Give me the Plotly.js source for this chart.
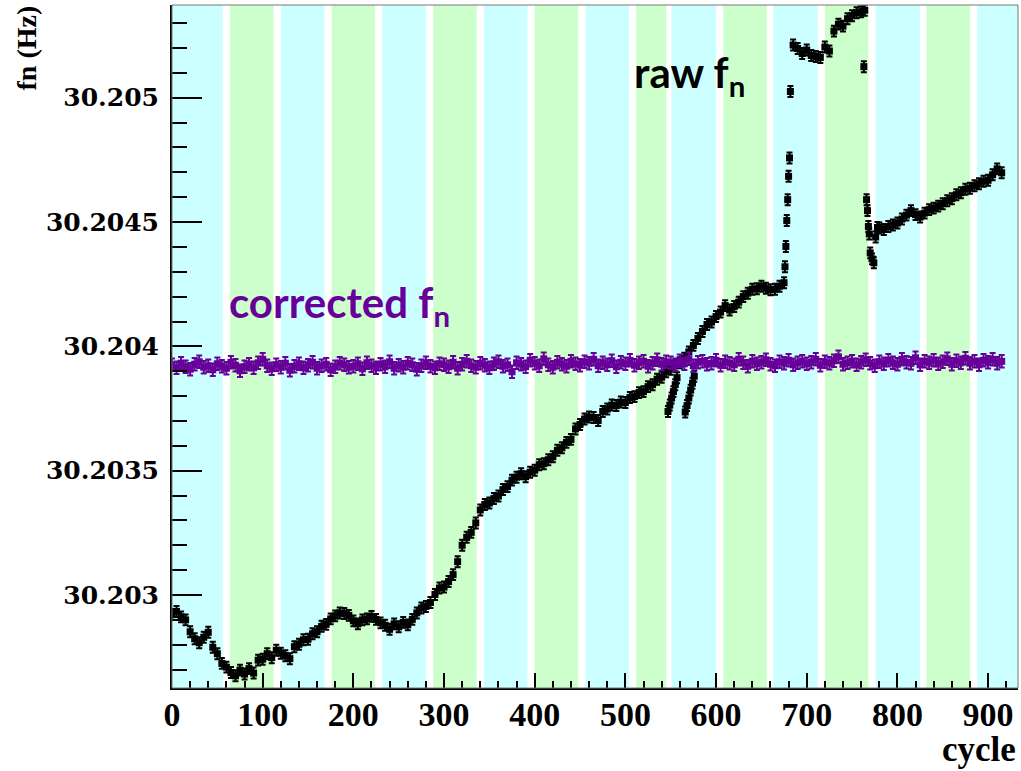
<!DOCTYPE html>
<html>
<head>
<meta charset="utf-8">
<script src="https://cdn.plot.ly/plotly-3.0.1.min.js"></script>
<style>html,body{margin:0;padding:0;background:#fff;}#chart{width:1021px;height:771px;}</style>
</head>
<body>
<div id="chart"></div>
<script>
// ---- data ----
// run bands (alternating cyan / green), in cycles
const bandStart = [0, 64, 120, 176, 232, 288, 344, 400, 456, 512, 551, 608, 663, 720, 776, 832, 888];
const bandEnd   = [56, 112, 168, 224, 280, 336, 392, 448, 504, 545, 600, 656, 712, 768, 825, 880, 933];
const bandColor = ['#ccffff','#ccffcc','#ccffff','#ccffcc','#ccffff','#ccffcc','#ccffff','#ccffcc','#ccffff',
                   '#ccffcc','#ccffff','#ccffcc','#ccffff','#ccffcc','#ccffff','#ccffcc','#ccffff'];

// raw f_n (Hz)
const rawCycle = [0,5,10,15,20,25,30,35,40,45,50,55,60,65,70,75,80,85,90,95,
  100,105,110,115,120,125,130,135,140,145,150,155,160,165,170,175,180,185,190,195,
  200,205,210,215,220,225,230,235,240,245,250,255,260,265,270,275,280,285,290,295,
  300,305,310,315,320,325,330,335,340,345,350,355,360,365,370,375,380,385,390,395,
  400,405,410,415,420,425,430,435,440,445,450,455,460,465,470,475,480,485,490,495,
  500,505,510,515,520,525,530,535,540,545,
  547,549,551,553,555,557,
  550,555,560,
  566,568,570,572,574,576,
  565,570,575,580,585,590,595,600,605,610,615,620,625,630,635,640,645,650,655,660,665,670,675,
  676,677,678,679,680,681,682,
  685,690,695,700,705,710,715,720,725,730,735,740,745,750,755,760,764,763,
  766,767,768,769,770,772,774,776,778,
  780,785,790,795,800,805,810,815,820,825,830,835,840,845,850,855,860,865,870,875,880,885,890,895,900,905,910,915];
const rawFn = [30.202922,30.202934,30.202912,30.2029,30.202852,30.202824,30.202808,30.20283,30.20285,30.20279,
  30.202764,30.202725,30.20271,30.202688,30.202675,30.202698,30.202682,30.202704,30.202686,30.202738,
  30.202742,30.202764,30.202748,30.202778,30.202766,30.202756,30.202744,30.202792,30.202802,30.20282,
  30.202822,30.202844,30.202852,30.202874,30.202882,30.202904,30.202916,30.202928,30.202926,30.202918,
  30.202896,30.202884,30.2029,30.202904,30.202914,30.202902,30.202888,30.202878,30.202862,30.202884,
  30.202872,30.20289,30.20288,30.202902,30.202928,30.202948,30.202954,30.20297,30.203002,30.203028,
  30.203032,30.203054,30.203082,30.203134,30.2032,30.203232,30.203252,30.20329,30.203342,30.203364,
  30.20337,30.203388,30.203398,30.203424,30.203436,30.203462,30.203474,30.203488,30.203476,30.203494,
  30.203502,30.203524,30.203528,30.203544,30.203556,30.203582,30.203592,30.203614,30.203626,30.203668,
  30.203686,30.203708,30.203716,30.203714,30.203702,30.203738,30.203748,30.203764,30.203762,30.203776,
  30.203774,30.203794,30.203798,30.203814,30.203818,30.203838,30.203846,30.203868,30.203876,30.203898,
  30.203738,30.203764,30.203792,30.203818,30.203846,30.203874,
  30.203908,30.203922,30.203934,
  30.203736,30.203762,30.203792,30.203824,30.203852,30.20388,
  30.203952,30.203978,30.204004,30.204032,30.20406,30.204088,30.204098,30.20412,30.204138,30.204164,
  30.204146,30.20416,30.204178,30.2042,30.204214,30.20423,30.204232,30.204242,30.204234,30.204228,
  30.20423,30.204242,30.204256,
  30.20432,30.204402,30.204506,30.20459,30.204684,30.204758,30.205025,
  30.205212,30.205198,30.205178,30.205192,30.20517,30.205166,30.205162,30.205204,30.205188,30.205268,
  30.205296,30.205288,30.205318,30.20533,30.205342,30.205346,30.205352,30.205125,
  30.20459,30.204546,30.204482,30.204452,30.204376,30.204352,30.204336,30.20444,30.204478,
  30.204476,30.20447,30.204482,30.204488,30.204496,30.204512,30.204528,30.204546,30.20453,30.20452,
  30.204536,30.20455,30.204556,30.204564,30.204574,30.204586,30.204594,30.20461,30.204618,30.204632,
  30.204636,30.204646,30.204654,30.204664,30.204668,30.20469,30.204714,30.204698];
const rawSigma = 0.000022;

// corrected f_n (Hz)
const corrCycle = [0,5,10,15,20,25,30,35,40,45,50,55,60,65,70,75,80,85,90,95,
  100,105,110,115,120,125,130,135,140,145,150,155,160,165,170,175,180,185,190,195,
  200,205,210,215,220,225,230,235,240,245,250,255,260,265,270,275,280,285,290,295,
  300,305,310,315,320,325,330,335,340,345,350,355,360,365,370,375,380,385,390,395,
  400,405,410,415,420,425,430,435,440,445,450,455,460,465,470,475,480,485,490,495,
  500,505,510,515,520,525,530,535,540,545,550,555,560,565,570,575,580,585,590,595,
  600,605,610,615,620,625,630,635,640,645,650,655,660,665,670,675,680,685,690,695,
  700,705,710,715,720,725,730,735,740,745,750,755,760,765,770,775,780,785,790,795,
  800,805,810,815,820,825,830,835,840,845,850,855,860,865,870,875,880,885,890,895,
  900,905,910,915];
const corrFn = [30.203926,30.203914,30.203932,30.203918,30.203908,30.203928,30.203938,30.203916,30.203922,30.203906,
  30.20393,30.20392,30.203912,30.203936,30.203924,30.203902,30.203918,30.203928,30.203914,30.203934,
  30.203948,30.203922,30.20391,30.203926,30.203916,30.203932,30.203904,30.20392,30.20393,30.203914,
  30.203924,30.203936,30.203912,30.203922,30.203928,30.203906,30.203918,30.203932,30.203926,30.203916,
  30.20392,30.20393,30.20391,30.203934,30.203922,30.203914,30.203928,30.203918,30.203938,30.203912,
  30.203924,30.203916,30.203932,30.203926,30.203908,30.203922,30.203934,30.20392,30.203914,30.20393,
  30.203926,30.203918,30.203936,30.203912,30.203928,30.20394,30.203922,30.203916,30.203932,30.203924,
  30.203914,30.20393,30.203938,30.20392,30.203926,30.203898,30.203934,30.203928,30.203918,30.203944,
  30.203932,30.203922,30.20395,30.203926,30.203916,30.203936,30.203928,30.20392,30.20394,30.20393,
  30.203924,30.203938,30.203932,30.203948,30.203922,30.203934,30.203926,30.203942,30.203918,30.203936,
  30.20393,30.203944,30.203924,30.203934,30.20394,30.20392,30.203932,30.203946,30.203928,30.203938,
  30.203934,30.203926,30.203942,30.20393,30.20395,30.203922,30.203936,30.20394,30.203928,30.203932,
  30.203944,30.203924,30.203938,30.203932,30.203926,30.203948,30.203934,30.20392,30.20394,30.20393,
  30.203936,30.203946,30.203928,30.203922,30.203938,30.203932,30.203944,30.203926,30.203934,30.20394,
  30.20393,30.203936,30.203948,30.203924,30.203938,30.203932,30.203942,30.203958,30.203928,30.203934,
  30.20394,30.203926,30.203936,30.203946,30.203932,30.203922,30.203938,30.20393,30.203944,30.203934,
  30.203928,30.203948,30.203936,30.203932,30.203954,30.203926,30.20394,30.203934,30.203944,30.20393,
  30.203938,30.20395,30.203928,30.203942,30.203934,30.203952,30.203932,30.20394,30.203926,30.203944,
  30.203936,30.203948,30.203932,30.20394];
const corrSigma = 0.000025;

// axes
const xRange = [0, 933];
const yRange = [30.202626, 30.205373];
const xTickVals = [0,100,200,300,400,500,600,700,800,900];
const xTickText = ['0','100','200','300','400','500','600','700','800','900'];
const yTickVals = [30.203, 30.2035, 30.204, 30.2045, 30.205];
const yTickText = ['30.203','30.2035','30.204','30.2045','30.205'];

// ---- chart ----
const shapes = bandStart.map((s, i) => ({
  type: 'rect', xref: 'x', yref: 'paper', x0: s, x1: bandEnd[i], y0: 0, y1: 1,
  fillcolor: bandColor[i], line: {width: 0}, layer: 'below'
}));
shapes.push({type: 'rect', xref: 'paper', yref: 'paper', x0: 0, x1: 1, y0: 0, y1: 1,
  line: {color: '#777', width: 1}, fillcolor: 'rgba(0,0,0,0)', layer: 'above'});

const traces = [
  {type: 'scatter', mode: 'markers', x: rawCycle, y: rawFn, name: 'raw',
   marker: {symbol: 'square', size: 7, color: '#000'},
   error_y: {type: 'constant', value: rawSigma, color: '#000', thickness: 2, width: 3},
   hoverinfo: 'skip'},
  {type: 'scatter', mode: 'markers', x: corrCycle, y: corrFn, name: 'corrected',
   marker: {symbol: 'square', size: 7, color: '#660099'},
   error_y: {type: 'constant', value: corrSigma, color: '#660099', thickness: 2, width: 3},
   hoverinfo: 'skip'}
];

const serif = 'Liberation Serif, Times New Roman, serif';
const layout = {
  width: 1021, height: 771,
  margin: {l: 172, r: 3, t: 5, b: 83, pad: 0},
  paper_bgcolor: '#fff', plot_bgcolor: '#fff',
  showlegend: false,
  shapes: shapes,
  xaxis: {
    range: xRange, showgrid: false, zeroline: false,
    showline: true, linecolor: '#000', linewidth: 2,
    tickmode: 'array', tickvals: xTickVals, ticktext: xTickText,
    ticks: 'inside', ticklen: 15, tickwidth: 2, tickcolor: '#000',
    minor: {tickmode: 'linear', tick0: 0, dtick: 20, ticks: 'inside', ticklen: 7, tickwidth: 2, tickcolor: '#000', showgrid: false},
    tickfont: {family: serif, size: 34, color: '#000', weight: 'bold'},
    ticklabelstandoff: -5
  },
  yaxis: {
    range: yRange, showgrid: false, zeroline: false,
    showline: true, linecolor: '#000', linewidth: 2,
    tickmode: 'array', tickvals: yTickVals, ticktext: yTickText,
    ticks: 'inside', ticklen: 30, tickwidth: 2, tickcolor: '#000',
    minor: {tickmode: 'linear', tick0: 30.203, dtick: 0.0001, ticks: 'inside', ticklen: 15, tickwidth: 2, tickcolor: '#000', showgrid: false},
    tickfont: {family: 'DejaVu Serif, serif', size: 25, color: '#000', weight: 'bold'},
    ticklabelstandoff: 6
  },
  annotations: [
    {xref: 'paper', yref: 'paper', x: -0.172, y: 0.937, xanchor: 'center', yanchor: 'middle',
     text: 'fn (Hz)', textangle: -90, showarrow: false,
     font: {family: serif, size: 28, color: '#000', weight: 'bold'}},
    {xref: 'paper', yref: 'paper', x: 1.0, y: -0.09, xanchor: 'right', yanchor: 'middle',
     text: 'cycle', showarrow: false,
     font: {family: serif, size: 35, color: '#000', weight: 'bold'}},
    {xref: 'x', yref: 'y', x: 507, y: 30.20509, xanchor: 'left', yanchor: 'middle',
     text: 'raw f<sub>n</sub>', showarrow: false,
     font: {family: 'Lato, sans-serif', size: 42, color: '#000', weight: 'bold'}},
    {xref: 'x', yref: 'y', x: 61, y: 30.204165, xanchor: 'left', yanchor: 'middle',
     text: 'corrected f<sub>n</sub>', showarrow: false,
     font: {family: 'Lato, sans-serif', size: 42, color: '#660099', weight: 'bold'}}
  ]
};

Plotly.newPlot('chart', traces, layout, {displayModeBar: false, staticPlot: true});
</script>
</body>
</html>
